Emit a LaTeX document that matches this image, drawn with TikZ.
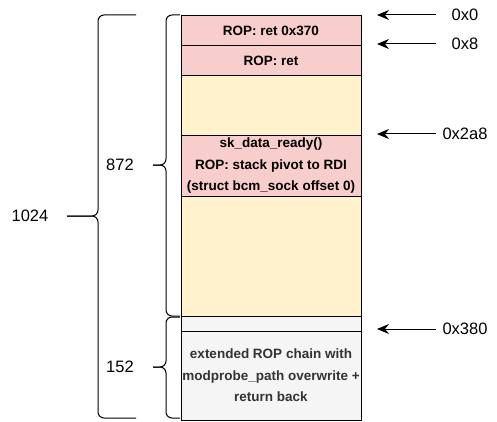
\documentclass[tikz,border=0pt]{standalone}
\usepackage{fontspec}
\setmainfont{Liberation Sans}
\usetikzlibrary{arrows.meta, positioning}
\definecolor{cpink}{HTML}{F8CECC}
\definecolor{cyellow}{HTML}{FFF2CC}
\definecolor{cgrey}{HTML}{F5F5F5}
\definecolor{ctext}{HTML}{333333}
\tikzset{
  every picture/.style={line width=1pt},
  slot/.style={draw=black, fill=#1, minimum width=180pt, inner sep=0pt, outer sep=0pt, align=center, font=\fontsize{13.5}{21.5}\selectfont\bfseries},
  slot/.default=cyellow,
  brace/.style={draw=black, rounded corners=6pt},
  arrow/.style={-{Stealth[length=12pt, width=10pt, inset=4pt]}},
  sizelabel/.style={font=\fontsize{16.5}{20}\selectfont},
  addr/.style={font=\fontsize{16.5}{20}\selectfont, minimum width=58pt, inner sep=0pt},
}

\begin{document}
\begin{tikzpicture}[x=1pt, y=-1pt]
  \useasboundingbox (0,0) rectangle (497,422);
  % stack frame
  \node[slot=cpink, minimum height=30pt, anchor=north] (ret370) at (271,16) {ROP: ret 0x370};
  \node[slot=cpink, minimum height=30pt, below=0pt of ret370] (ret) {ROP: ret};
  \node[slot, minimum height=60pt, below=0pt of ret] (gap1) {};
  \node[slot=cpink, minimum height=60pt, below=0pt of gap1] (pivot) {sk\_data\_ready()\\ROP: stack pivot to RDI\\(struct bcm\_sock offset 0)};
  \node[slot, minimum height=120pt, below=0pt of pivot] (gap2) {};
  \node[slot=cgrey, minimum height=15pt, below=0pt of gap2] (gap3) {};
  \node[slot=cgrey, minimum height=89pt, below=0pt of gap3, text=ctext] (chain) {extended ROP chain with\\modprobe\_path overwrite +\\return back};
  % braces
  \draw[brace] (180,15) -| (166,165) -- (153,165);
  \draw[brace] (180,316) -| (166,165) -- (153,165);
  \draw[brace] (180,317) -| (166,367) -- (153,367);
  \draw[brace] (180,418) -| (166,367) -- (153,367);
  \draw[brace] (136,15) -| (98,216) -- (67,216);
  \draw[brace] (136,418) -| (98,216) -- (67,216);
  \node[sizelabel] (n872) at (120,165) {872};
  \node[sizelabel] (n152) at (120,367) {152};
  \node[sizelabel] (n1024) at (30,216) {1024};
  % offsets
  \coordinate (ptr) at (377,0);
  \foreach \name/\txt/\yy in {a0/0x0/15, a8/0x8/44, a2a8/0x2a8/134, a380/0x380/329}{
    \node[addr] (\name) at (465,\yy) {\txt};
    \draw[arrow] (\name.west) -- (\name.west -| ptr);
  }
\end{tikzpicture}
\end{document}
